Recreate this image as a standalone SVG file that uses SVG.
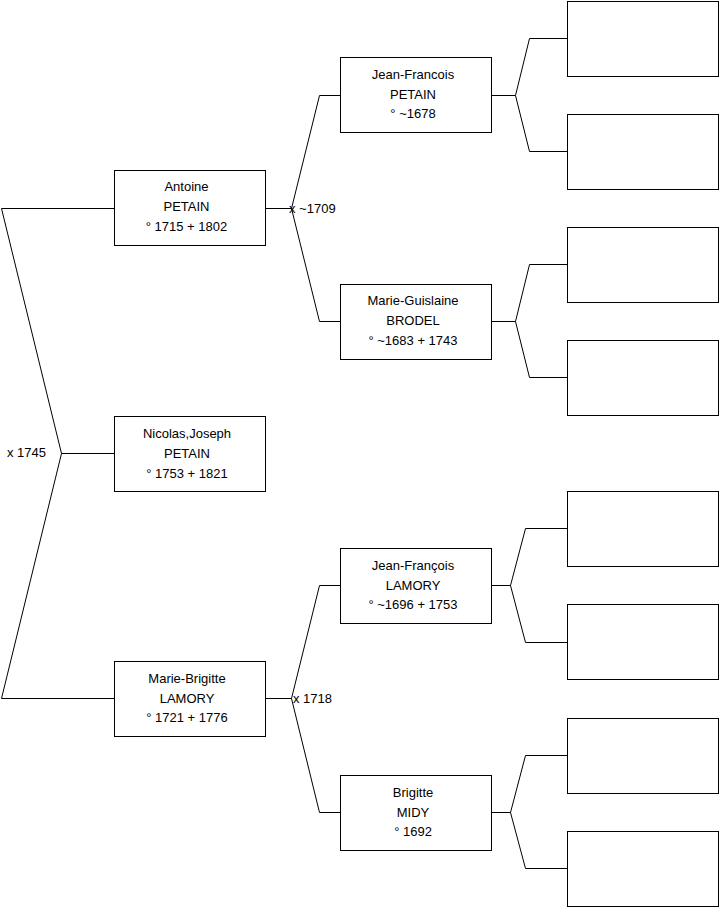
<svg xmlns="http://www.w3.org/2000/svg" width="719" height="908" viewBox="0 0 719 908">
<style>
.box{fill:#fff;stroke:#000;stroke-width:1}
.c{fill:none;stroke:#000;stroke-width:1}
text{font-family:"Liberation Sans",Arial,sans-serif;font-size:13px;fill:#000}
.t{text-anchor:middle}
</style>
<rect width="719" height="908" fill="#fff"/>
<g id="connectors">
<polyline class="c" points="114.5,453.5 61.5,453.5"/>
<polyline class="c" points="61.5,453.5 1.5,208.5 114.5,208.5"/>
<polyline class="c" points="61.5,453.5 1.5,698.5 114.5,698.5"/>
<polyline class="c" points="265.5,208.5 291.5,208.5"/>
<polyline class="c" points="291.5,208.5 319.5,95.5 340.5,95.5"/>
<polyline class="c" points="291.5,208.5 319.5,321.5 340.5,321.5"/>
<polyline class="c" points="265.5,698.5 291.5,698.5"/>
<polyline class="c" points="291.5,698.5 319.5,585.5 340.5,585.5"/>
<polyline class="c" points="291.5,698.5 319.5,812.5 340.5,812.5"/>
<polyline class="c" points="491.5,95.5 515.5,95.5"/>
<polyline class="c" points="515.5,95.5 529.5,38.5 567.5,38.5"/>
<polyline class="c" points="515.5,95.5 529.5,151.5 567.5,151.5"/>
<polyline class="c" points="491.5,321.5 515.5,321.5"/>
<polyline class="c" points="515.5,321.5 529.5,264.5 567.5,264.5"/>
<polyline class="c" points="515.5,321.5 529.5,377.5 567.5,377.5"/>
<polyline class="c" points="491.5,585.5 510.5,585.5"/>
<polyline class="c" points="510.5,585.5 525.5,528.5 567.5,528.5"/>
<polyline class="c" points="510.5,585.5 525.5,642.5 567.5,642.5"/>
<polyline class="c" points="491.5,812.5 510.5,812.5"/>
<polyline class="c" points="510.5,812.5 525.5,755.5 567.5,755.5"/>
<polyline class="c" points="510.5,812.5 525.5,868.5 567.5,868.5"/>
<text x="7" y="457">x 1745</text>
<text x="289" y="212.5">x ~1709</text>
<text x="293" y="702.5">x 1718</text>
</g>
<g id="antoine">
<rect class="box" x="114.5" y="170.5" width="151" height="75"/>
<text class="t" x="186.5" y="191">Antoine</text>
<text class="t" x="186.5" y="211">PETAIN</text>
<text class="t" x="186.5" y="230.5">° 1715 + 1802</text>
</g>
<g id="nicolas">
<rect class="box" x="114.5" y="416.5" width="151" height="75"/>
<text class="t" x="187" y="438">Nicolas,Joseph</text>
<text class="t" x="187" y="458">PETAIN</text>
<text class="t" x="187" y="477.5">° 1753 + 1821</text>
</g>
<g id="marie-brigitte">
<rect class="box" x="114.5" y="661.5" width="151" height="75"/>
<text class="t" x="187" y="682.5">Marie-Brigitte</text>
<text class="t" x="187" y="702.5">LAMORY</text>
<text class="t" x="187" y="722">° 1721 + 1776</text>
</g>
<g id="jf-petain">
<rect class="box" x="340.5" y="57.5" width="151" height="75"/>
<text class="t" x="413" y="78.5">Jean-Francois</text>
<text class="t" x="413" y="98.5">PETAIN</text>
<text class="t" x="413" y="118">° ~1678</text>
</g>
<g id="mg-brodel">
<rect class="box" x="340.5" y="284.5" width="151" height="75"/>
<text class="t" x="413" y="305">Marie-Guislaine</text>
<text class="t" x="413" y="325">BRODEL</text>
<text class="t" x="413" y="344.5">° ~1683 + 1743</text>
</g>
<g id="jf-lamory">
<rect class="box" x="340.5" y="548.5" width="151" height="75"/>
<text class="t" x="413" y="569.5">Jean-François</text>
<text class="t" x="413" y="589.5">LAMORY</text>
<text class="t" x="413" y="609">° ~1696 + 1753</text>
</g>
<g id="brigitte-midy">
<rect class="box" x="340.5" y="775.5" width="151" height="75"/>
<text class="t" x="413" y="796.5">Brigitte</text>
<text class="t" x="413" y="816.5">MIDY</text>
<text class="t" x="413" y="836">° 1692</text>
</g>
<g id="p1"><rect class="box" x="567.5" y="1.5" width="151" height="75"/></g>
<g id="p2"><rect class="box" x="567.5" y="114.5" width="151" height="75"/></g>
<g id="p3"><rect class="box" x="567.5" y="227.5" width="151" height="75"/></g>
<g id="p4"><rect class="box" x="567.5" y="340.5" width="151" height="75"/></g>
<g id="p5"><rect class="box" x="567.5" y="491.5" width="151" height="75"/></g>
<g id="p6"><rect class="box" x="567.5" y="604.5" width="151" height="75"/></g>
<g id="p7"><rect class="box" x="567.5" y="718.5" width="151" height="75"/></g>
<g id="p8"><rect class="box" x="567.5" y="831.5" width="151" height="75"/></g>
</svg>
